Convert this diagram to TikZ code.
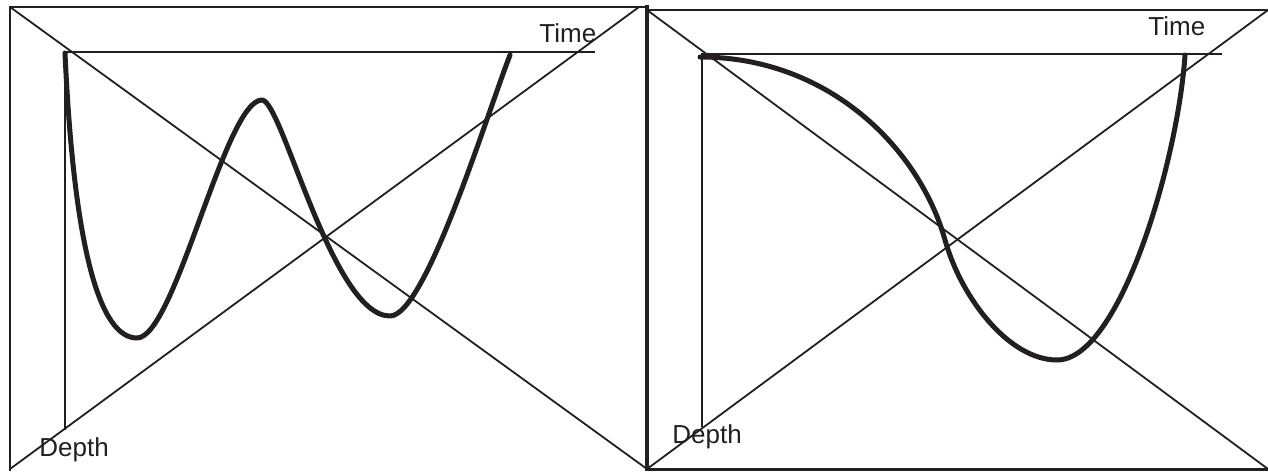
\documentclass[tikz,border=0pt]{standalone}
\usepackage{fontspec}
\setmainfont{Liberation Sans}
\definecolor{ink}{HTML}{231F20}
\begin{document}
\begin{tikzpicture}[x=0.5pt,y=-0.5pt,
  frame/.style={draw=ink,line width=1pt},
  diag/.style={draw=ink,line width=0.9pt},
  axis/.style={draw=ink,line width=0.8pt},
  curve/.style={draw=ink,line width=2.5pt,line cap=round,line join=round},
  lbl/.style={font=\fontsize{13}{15}\selectfont,text=ink,inner sep=0pt,anchor=base west}]
\useasboundingbox (0,0) rectangle (1268,471);
% ---------- left panel ----------
\coordinate (LTL) at (10,7);
\coordinate (LTR) at (647,7);
\coordinate (LBL) at (10,471);
\coordinate (LDL) at (10,469);
\coordinate (LDR) at (647,469);
\coordinate (LDT) at (639,7);
\draw[frame] (LBL) -- (LTL) -- (LTR);
\draw[diag] (LTL) -- (LDR);
\draw[diag] (LDL) -- (LDT);
\coordinate (LO) at (65,52);
\coordinate (LX) at (595,52);
\coordinate (LY) at (65,430);
\draw[axis] (LY) -- (LO) -- (LX);
\node[lbl] (ltime) at (539,42) {Time};
\node[lbl] (ldepth) at (39,456) {Depth};
\draw[curve] (65,53) .. controls (74,250) and (100,338) .. (137,338)
  .. controls (175,338) and (225,100) .. (262,100)
  .. controls (282,100) and (332,316) .. (390,316)
  .. controls (425,316) and (485,120) .. (510,55);
% ---------- right panel ----------
\coordinate (RTL) at (647,10);
\coordinate (RTR) at (1268,10);
\coordinate (RBL) at (647,469);
\coordinate (RBR) at (1268,469);
\draw[frame] (RTL) -- (RTR);
\draw[draw=ink,line width=1.5pt] (RBL) -- (RBR);
\draw[draw=ink,line width=2pt] (647,5) -- (647,471);
\draw[diag] (RTL) -- (RBR);
\draw[diag] (RBL) -- (RTR);
\coordinate (RO) at (702,54);
\coordinate (RX) at (1222,54);
\coordinate (RY) at (702,427);
\draw[axis] (RY) -- (RO) -- (RX);
\node[lbl] (rtime) at (1148,35) {Time};
\node[lbl] (rdepth) at (672,443) {Depth};
\draw[curve] (700,57) .. controls (830,57) and (920,150) .. (945,240)
  .. controls (962,300) and (1010,360) .. (1057,360)
  .. controls (1120,360) and (1178,160) .. (1185,55);
\end{tikzpicture}
\end{document}
